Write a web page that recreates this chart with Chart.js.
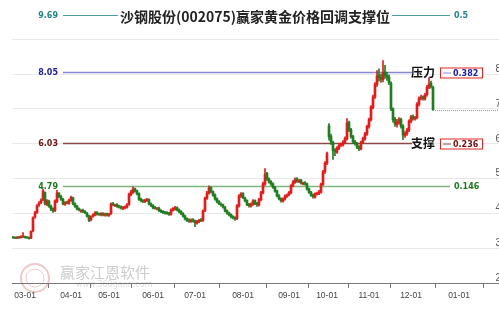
<!DOCTYPE html>
<html>
<head>
<meta charset="utf-8">
<script src="https://cdn.jsdelivr.net/npm/chart.js@4.4.0/dist/chart.umd.min.js"></script>
<style>
  html, body { margin: 0; padding: 0; background: #fff; }
  #wrap { width: 499px; height: 309px; }
</style>
</head>
<body>
<div id="wrap"><canvas id="kline" width="499" height="309"></canvas></div>
<script>
// 标题与坐标
const chartTitle = '沙钢股份(002075)赢家黄金价格回调支撑位';
const monthTicks = [6, 29, 48, 70, 91, 115, 138, 157, 178, 199, 223];
const monthLabels = ['03-01', '04-01', '05-01', '06-01', '07-01', '08-01', '09-01', '10-01', '11-01', '12-01', '01-01'];
const priceTicks = [2, 3, 4, 5, 6, 7, 8, 9];

// 黄金分割回调位
const levelPrices = [9.69, 8.05, 6.03, 4.79];
const levelRatios = ['0.5', '0.382', '0.236', '0.146'];
const levelTags = ['', '压力', '支撑', ''];

// 日K线
const opens = [
  3.31,3.30,3.29,3.31,3.30,3.32,3.33,3.31,3.30,3.29,
  3.50,3.90,4.02,4.24,4.31,4.40,4.60,4.25,4.35,4.21,
  4.14,4.08,4.34,4.58,4.49,4.41,4.26,4.32,4.29,4.37,
  4.45,4.28,4.21,4.14,4.06,4.09,4.06,4.01,3.93,3.81,
  3.91,3.95,4.03,3.99,3.96,4.00,3.95,3.99,3.94,3.99,
  4.28,4.22,4.25,4.21,4.19,4.14,4.16,4.18,4.26,4.54,
  4.60,4.71,4.65,4.57,4.41,4.37,4.34,4.37,4.40,4.28,
  4.23,4.17,4.13,4.15,4.09,4.06,4.03,4.02,4.01,3.97,
  4.09,4.12,4.17,4.11,4.06,4.00,3.93,3.85,3.81,3.77,
  3.82,3.79,3.72,3.76,3.82,3.80,4.08,4.43,4.58,4.74,
  4.63,4.53,4.42,4.34,4.27,4.25,4.17,4.08,4.02,3.97,
  3.91,3.88,3.85,4.21,4.49,4.57,4.44,4.37,4.26,4.21,
  4.26,4.37,4.29,4.24,4.39,4.59,4.84,5.15,4.99,4.91,
  4.85,4.76,4.65,4.51,4.43,4.35,4.41,4.49,4.53,4.59,
  4.79,4.89,4.99,4.91,4.96,4.85,4.88,4.85,4.71,4.61,
  4.53,4.47,4.55,4.57,4.61,4.83,5.19,5.44,6.52,6.22,
  6.04,5.82,5.76,5.87,5.96,5.97,6.04,6.14,6.62,6.41,
  6.21,6.06,6.01,5.91,5.85,6.04,6.14,6.28,6.49,6.69,
  7.04,7.34,7.70,7.97,7.91,7.84,8.07,7.96,7.92,7.74,
  7.00,6.70,6.55,6.61,6.70,6.51,6.24,6.29,6.39,6.64,
  6.78,6.71,6.75,7.13,7.31,7.35,7.29,7.41,7.62,7.74,
  7.62
];
const highs = [
  3.33,3.32,3.33,3.33,3.36,3.45,3.35,3.33,3.32,3.50,
  3.90,4.06,4.25,4.34,4.42,4.70,4.62,4.40,4.38,4.24,
  4.16,4.39,4.66,4.60,4.52,4.43,4.34,4.35,4.41,4.50,
  4.47,4.30,4.23,4.16,4.11,4.12,4.08,4.03,3.95,3.93,
  3.99,4.05,4.05,4.01,4.02,4.02,4.01,4.01,4.00,4.30,
  4.32,4.27,4.28,4.24,4.22,4.20,4.22,4.28,4.58,4.66,
  4.76,4.73,4.67,4.59,4.44,4.40,4.41,4.43,4.42,4.30,
  4.25,4.20,4.17,4.18,4.11,4.08,4.06,4.05,4.03,4.13,
  4.17,4.20,4.19,4.13,4.08,4.02,3.95,3.87,3.84,3.84,
  3.85,3.81,3.80,3.83,3.85,4.10,4.47,4.63,4.79,4.76,
  4.65,4.56,4.45,4.37,4.30,4.27,4.20,4.10,4.04,3.99,
  3.94,3.90,4.25,4.54,4.60,4.60,4.47,4.39,4.29,4.30,
  4.40,4.39,4.32,4.43,4.63,4.90,5.29,5.18,5.02,4.94,
  4.88,4.78,4.67,4.54,4.45,4.45,4.53,4.56,4.63,4.83,
  4.94,5.02,5.03,4.98,4.98,4.90,4.91,4.87,4.73,4.63,
  4.56,4.59,4.61,4.66,4.87,5.24,5.49,5.76,6.58,6.28,
  6.08,5.86,5.92,5.99,6.02,6.09,6.20,6.72,6.65,6.44,
  6.24,6.10,6.04,5.95,6.08,6.19,6.33,6.54,6.74,7.10,
  7.40,7.76,8.10,8.15,8.00,8.39,8.25,8.05,7.98,7.78,
  7.03,6.76,6.70,6.75,6.74,6.55,6.35,6.44,6.69,6.82,
  6.83,6.79,7.18,7.35,7.40,7.38,7.45,7.68,7.90,7.80,
  7.66
];
const lows = [
  3.28,3.27,3.27,3.28,3.29,3.30,3.29,3.28,3.26,3.27,
  3.47,3.86,4.00,4.20,4.28,4.36,4.24,4.22,4.17,4.08,
  4.03,4.05,4.31,4.45,4.37,4.24,4.23,4.27,4.26,4.34,
  4.24,4.17,4.10,4.07,4.03,4.02,3.99,3.89,3.76,3.78,
  3.89,3.93,3.95,3.94,3.93,3.93,3.92,3.92,3.91,3.97,
  4.22,4.19,4.17,4.15,4.12,4.11,4.13,4.15,4.23,4.50,
  4.57,4.61,4.53,4.37,4.33,4.31,4.31,4.34,4.24,4.19,
  4.13,4.12,4.10,4.05,4.02,3.99,3.98,3.97,3.94,3.95,
  4.06,4.09,4.07,4.02,3.96,3.89,3.81,3.76,3.74,3.74,
  3.75,3.62,3.69,3.73,3.76,3.77,4.05,4.40,4.55,4.59,
  4.49,4.38,4.30,4.25,4.21,4.15,4.04,3.98,3.93,3.87,
  3.84,3.80,3.82,4.18,4.46,4.42,4.33,4.22,4.18,4.18,
  4.23,4.25,4.20,4.21,4.36,4.56,4.80,4.95,4.87,4.80,
  4.72,4.61,4.47,4.39,4.32,4.32,4.38,4.46,4.50,4.56,
  4.76,4.86,4.89,4.88,4.84,4.82,4.81,4.67,4.57,4.49,
  4.44,4.44,4.52,4.54,4.58,4.80,5.15,5.40,6.10,5.98,
  5.55,5.66,5.72,5.83,5.92,5.93,6.00,6.10,6.35,6.16,
  6.01,5.96,5.86,5.80,5.82,6.00,6.10,6.24,6.45,6.65,
  7.00,7.30,7.65,7.80,7.76,7.78,7.88,7.82,7.70,6.95,
  6.62,6.50,6.48,6.56,6.45,6.12,6.18,6.24,6.35,6.60,
  6.68,6.68,6.71,7.09,7.26,7.25,7.25,7.37,7.58,7.60,
  6.96
];
const closes = [
  3.30,3.29,3.31,3.30,3.32,3.34,3.31,3.30,3.28,3.48,
  3.88,4.02,4.22,4.30,4.38,4.64,4.27,4.36,4.20,4.12,
  4.07,4.36,4.59,4.48,4.40,4.27,4.31,4.30,4.38,4.46,
  4.27,4.20,4.13,4.10,4.08,4.05,4.02,3.92,3.80,3.90,
  3.96,4.02,3.98,3.97,3.99,3.96,3.98,3.95,3.98,4.27,
  4.25,4.24,4.20,4.18,4.16,4.17,4.19,4.25,4.55,4.62,
  4.70,4.64,4.56,4.40,4.36,4.35,4.38,4.39,4.27,4.22,
  4.16,4.15,4.14,4.08,4.05,4.02,4.01,4.00,3.98,4.10,
  4.14,4.16,4.10,4.05,3.99,3.92,3.84,3.80,3.78,3.81,
  3.78,3.73,3.77,3.80,3.79,4.07,4.44,4.59,4.73,4.62,
  4.52,4.41,4.33,4.28,4.24,4.18,4.07,4.01,3.96,3.90,
  3.87,3.84,4.22,4.50,4.56,4.45,4.36,4.25,4.22,4.27,
  4.36,4.28,4.25,4.40,4.60,4.85,5.12,4.98,4.90,4.84,
  4.75,4.64,4.50,4.42,4.36,4.42,4.50,4.52,4.60,4.80,
  4.90,4.98,4.92,4.95,4.87,4.86,4.84,4.70,4.60,4.52,
  4.48,4.56,4.58,4.62,4.84,5.20,5.45,5.72,6.20,6.05,
  5.80,5.78,5.88,5.95,5.98,6.05,6.15,6.60,6.40,6.20,
  6.05,6.00,5.90,5.86,6.05,6.15,6.29,6.50,6.70,7.05,
  7.35,7.71,7.95,7.90,7.85,8.05,7.95,7.91,7.75,7.00,
  6.69,6.57,6.62,6.69,6.50,6.25,6.30,6.40,6.65,6.77,
  6.72,6.74,7.14,7.30,7.34,7.30,7.40,7.63,7.72,7.65,
  6.98
];

const UP = '#e41b1b';
const DOWN = '#1f7d22';

const bodyData = closes.map((c, i) => ({ x: i, y: [opens[i], c] }));
const wickData = closes.map((c, i) => ({ x: i, y: [lows[i], highs[i]] }));
const candleColors = closes.map((c, i) => c >= opens[i] ? UP : DOWN);

// 线的样式
const lineColors = ['#4c9c9c', '#8888d8', '#8a4848', '#7cb67c'];
const textColors = ['#1f8585', '#1c1ca0', '#701414', '#1c7a1c'];
const lineWidths = [1, 1.5, 1.5, 1.5];

const overlay = {
  id: 'overlay',
  beforeDraw(chart) {
    // 水印
    const c = chart.ctx;
    c.save();
    c.strokeStyle = '#f0c8c8';
    c.lineWidth = 2;
    c.beginPath(); c.arc(35, 278, 14, 0, Math.PI * 2); c.stroke();
    c.lineWidth = 1;
    c.beginPath(); c.arc(35, 278, 9, 0, Math.PI * 2); c.stroke();
    c.fillStyle = '#cccccc';
    c.font = '15px "Noto Sans CJK SC"';
    c.textBaseline = 'middle';
    c.fillText('赢家江恩软件', 60, 272);
    c.fillStyle = '#dddddd';
    c.font = '8px "DejaVu Sans"';
    c.fillText('www.360gann.com', 76, 285);
    c.restore();
  },
  beforeDatasetsDraw(chart) {
    const c = chart.ctx;
    const xs = chart.scales.x, ys = chart.scales.y;
    c.save();
    levelPrices.forEach((p, k) => {
      const y = Math.round(ys.getPixelForValue(p)) + 0.5;
      const x0 = 63;
      const x1 = levelTags[k] ? 412 : 450;
      c.strokeStyle = lineColors[k];
      c.lineWidth = lineWidths[k];
      c.beginPath(); c.moveTo(x0, y); c.lineTo(x1, y); c.stroke();
    });
    // 最新价虚线
    const last = closes.length - 1;
    const ly = Math.round(ys.getPixelForValue(closes[last])) + 0.5;
    c.strokeStyle = '#9a9a9a';
    c.lineWidth = 1;
    c.setLineDash([1, 1]);
    c.beginPath(); c.moveTo(xs.getPixelForValue(last) + 2, ly); c.lineTo(chart.chartArea.right, ly); c.stroke();
    c.restore();
  },
  afterDatasetsDraw(chart) {
    const c = chart.ctx;
    const ys = chart.scales.y;
    c.save();
    c.textBaseline = 'middle';
    levelPrices.forEach((p, k) => {
      const y = Math.round(ys.getPixelForValue(p)) + 0.5;
      c.font = 'bold 8px "DejaVu Sans"';
      c.fillStyle = textColors[k];
      c.textAlign = 'right';
      c.fillText(p.toFixed(2), 58, y);
      c.textAlign = 'left';
      if (levelTags[k]) {
        c.fillStyle = '#111';
        c.font = 'bold 12px "Noto Sans CJK SC"';
        c.fillText(levelTags[k], 411, y);
        c.fillStyle = '#fff';
        c.fillRect(440.5, y - 4.5, 42, 10);
        c.strokeStyle = '#e02424';
        c.lineWidth = 1;
        c.strokeRect(440.5, y - 4.5, 42, 10);
        c.strokeStyle = lineColors[k];
        c.beginPath(); c.moveTo(443, y + 0.5); c.lineTo(451, y + 0.5); c.stroke();
        c.fillStyle = textColors[k];
        c.font = 'bold 8px "DejaVu Sans"';
        c.fillText(levelRatios[k], 453, y + 1);
      } else {
        c.fillText(levelRatios[k], 454, y);
      }
    });
    // 标题
    c.font = 'bold 14px "Noto Sans CJK SC"';
    const w = c.measureText(chartTitle).width;
    c.fillStyle = '#fff';
    c.fillRect(255 - w / 2 - 2, 6, w + 4, 20);
    c.fillStyle = '#222';
    c.textAlign = 'center';
    c.fillText(chartTitle, 255, 17);
    c.restore();
  }
};

const ctx = document.getElementById('kline').getContext('2d');
new Chart(ctx, {
  type: 'bar',
  data: {
    datasets: [
      { data: wickData, backgroundColor: candleColors, barThickness: 1, grouped: false, order: 2 },
      { data: bodyData, backgroundColor: candleColors, barThickness: 2, grouped: false, order: 1, minBarLength: 1 }
    ]
  },
  options: {
    responsive: false,
    animation: false,
    layout: { padding: { left: 12, right: 0, top: 5, bottom: 0 } },
    plugins: { legend: { display: false }, tooltip: { enabled: false } },
    scales: {
      x: {
        type: 'linear', min: -0.5, max: 243, offset: false,
        afterBuildTicks: s => { s.ticks = monthTicks.map(v => ({ value: v })); },
        afterFit: s => { s.height = 26; },
        grid: { drawOnChartArea: false, drawTicks: true, tickLength: 5, color: '#777' },
        border: { color: '#777' },
        ticks: {
          autoSkip: false, maxRotation: 0, padding: 3, color: '#444',
          font: { family: 'Liberation Sans', size: 8.5 },
          callback: v => monthLabels[monthTicks.indexOf(v)]
        }
      },
      y: {
        position: 'right', min: 2, max: 9.9,
        afterBuildTicks: s => { s.ticks = priceTicks.map(v => ({ value: v })); },
        afterFit: s => { s.width = 0; },
        grid: { drawTicks: false, color: t => (t.tick && t.tick.value === 2) ? 'rgba(0,0,0,0)' : '#e8e8e8' },
        border: { display: false },
        ticks: {
          mirror: true, padding: 2, labelOffset: -5, color: '#555',
          font: { family: 'Liberation Sans', size: 10 },
          callback: v => v < 9 ? String(v) : ''
        }
      }
    }
  },
  plugins: [overlay]
});
</script>
</body>
</html>
